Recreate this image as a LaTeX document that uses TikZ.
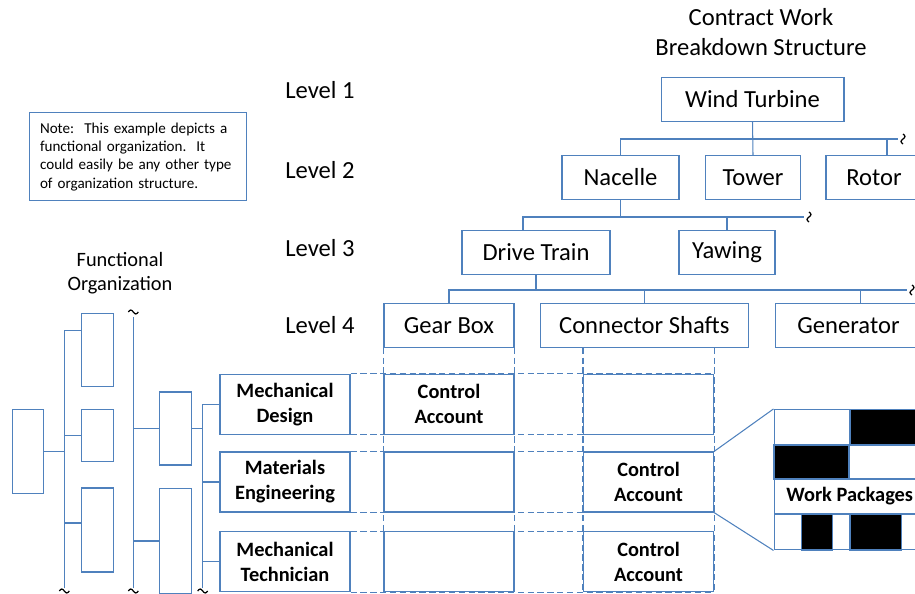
\documentclass[tikz,border=0pt]{standalone}
\usepackage{fontspec}
\setmainfont{Carlito}
\definecolor{wbsblue}{RGB}{79,129,189}

\begin{document}
\begin{tikzpicture}[x=0.02cm, y=-0.02cm,
  line/.style={draw=wbsblue, line width=0.6pt},
  wbsbox/.style={line, minimum height=0.87cm, inner sep=0pt, font=\fontsize{14}{17}\selectfont},
  orgbox/.style={line, minimum width=2.6cm, minimum height=1.2cm, inner sep=0pt, align=center, font=\bfseries\fontsize{11.6}{14.2}\selectfont},
  blankbox/.style={line, minimum width=0.63cm, inner sep=0pt},
  gridline/.style={draw=wbsblue, line width=0.6pt, dash pattern=on 3.6pt off 2pt},
  squiggle/.pic={\draw[black, line width=0.7pt] (-5,0) sin (-2.5,-2) cos (0,0) sin (2.5,2) cos (5,0);}
]
\useasboundingbox (0,0) rectangle (915,594);
\clip (0,0) rectangle (915,594);

% 标题与说明
\node (title) at (761,32) [align=center, font=\fontsize{14}{17}\selectfont] {Contract Work\\Breakdown Structure};
\node (note) at (138,156.7) [line, minimum width=4.35cm, minimum height=1.76cm, text width=3.92cm, align=left, font=\fontsize{8.6}{10.4}\selectfont\frenchspacing]
  {Note:~ This example depicts a\\functional organization.~ It\\could easily be any other type\\of organization structure.};
\node (forg) at (120,273) [align=center, font=\fontsize{11.6}{13.6}\selectfont] {Functional\\Organization};
\foreach \n/\y in {1/90,2/170,3/248,4/325} {
    \node (lv\n) at (320,\y) [font=\fontsize{14}{17}\selectfont] {Level \n}; % 左侧层级
}

% WBS 树
\node (wt) at (752.5,99.5) [wbsbox, minimum width=3.66cm] {Wind Turbine};
\node (nacelle) at (620.5,177.5) [wbsbox, minimum width=2.34cm] {Nacelle};
\node (tower) at (753,177.5) [wbsbox, minimum width=1.9cm] {Tower};
\node (rotor) at (874,177.5) [wbsbox, minimum width=1.92cm] {Rotor};
\node (drive) at (536,252.5) [wbsbox, minimum width=2.96cm] {Drive Train};
\node (yaw) at (727,252.5) [wbsbox, minimum width=1.92cm] {Yawing};
\node (gear) at (449,325.5) [wbsbox, minimum width=2.6cm] {Gear Box};
\node (conn) at (644.3,325.5) [wbsbox, minimum width=4.17cm] {Connector Shafts};
\node (gen) at (848.5,325.5) [wbsbox, minimum width=2.94cm] {Generator};

\coordinate (bus1) at (898,139);
\coordinate (bus2) at (804,217);
\coordinate (bus3) at (907,290);
\draw[line] (wt.south) -- (tower.north);
\draw[line] (nacelle.north) |- (bus1);
\draw[line] ([xshift=0.26cm]rotor.north) |- (bus1);
\draw[line] (nacelle.south) -- (nacelle.south |- bus2);
\draw[line] ([xshift=-0.26cm]drive.north) |- (bus2);
\draw[line] (yaw.north) -- (yaw.north |- bus2);
\draw[line] (drive.south) -- (drive.south |- bus3);
\draw[line] (gear.north) |- (bus3);
\draw[line] (conn.north) -- (conn.north |- bus3);
\draw[line] ([xshift=0.24cm]gen.north) -- ([xshift=0.24cm]gen.north |- bus3);
\foreach \b in {bus1,bus2,bus3} {
    \path (\b) ++(5,0) pic[rotate=90]{squiggle}; % 省略号
}

% 职能组织
\node (f0) at (28,451.3) [blankbox, minimum height=1.68cm] {};
\node (f1a) at (97.5,350) [blankbox, minimum height=1.47cm] {};
\node (f1b) at (97.5,435.5) [blankbox, minimum height=1.05cm] {};
\node (f1c) at (97.5,530) [blankbox, minimum height=1.68cm] {};
\node (f2a) at (175.3,428.5) [blankbox, minimum height=1.46cm] {};
\node (f2b) at (175.3,541) [blankbox, minimum height=2.1cm] {};
\node (org1) at (285,404.3) [orgbox] {Mechanical\\Design};
\node (org2) at (285,482) [orgbox] {Materials\\Engineering};
\node (org3) at (285,561.7) [orgbox] {Mechanical\\Technician};

\coordinate (v1) at (64.3,588);
\coordinate (v2top) at (133.3,317);
\coordinate (v2) at (133.3,588);
\coordinate (v3) at (202.7,588);
\draw[line] ([yshift=0.386cm]f1a.west) -| (v1);
\draw[line] (v1) |- (f0.east);
\draw[line] (v1) |- (f1b.west);
\draw[line] (v1) |- ([yshift=0.14cm]f1c.west);
\draw[line] (v2top) -- (v2);
\draw[line] (v2) |- (f2a.west);
\draw[line] (v2) |- (f2b.west);
\draw[line] (org1.west) -| (v3);
\draw[line] (v3) |- (org2.west);
\draw[line] (v3) |- (org3.west);
\draw[line] (v3) |- (f2a.east);
\foreach \v in {v1,v2,v3} {
    \path (\v) ++(0,3) pic{squiggle};
}
\path (v2top) ++(0,-5) pic{squiggle};

% 控制账户矩阵
\node (gb1) at (449,404.3) [orgbox] {Control\\Account};
\node (gb2) at (449,482) [orgbox] {};
\node (gb3) at (449,561.7) [orgbox] {};
\node (cs1) at (648.5,404.3) [orgbox] {};
\node (cs2) at (648.5,482) [orgbox] {Control\\Account};
\node (cs3) at (648.5,561.7) [orgbox] {Control\\Account};
\foreach \r in {1,2,3} {
    \draw[gridline] (org\r.north east) -- (cs\r.north east);
    \draw[gridline] (org\r.south east) -- (cs\r.south east);
}
\draw[gridline] (gear.south west) -- (gb3.south west);
\draw[gridline] (gear.south east) -- (gb3.south east);
\draw[gridline] (conn.south -| cs1.west) -- (cs3.south west);
\draw[gridline] (conn.south -| cs1.east) -- (cs3.south east);

% 工作包
\node (wp) at (850,479.7) [line, minimum width=3.04cm, minimum height=2.81cm, inner sep=0pt] {};
\draw[line] (cs2.north east) -- (wp.north west);
\draw[line] (cs2.south east) -- (wp.south west);
\draw[line, fill=black] (850,409.3) rectangle (926,445);
\draw[line, fill=black] (774,445) rectangle (849,479);
\draw[line] (774,479) -- (926,479);
\draw[line] (774,514) -- (926,514);
\draw[line, fill=black] (801.7,514) rectangle (832.3,550);
\draw[line, fill=black] (850,514) rectangle (901.7,550);
\node (wptext) at (786,496.5) [anchor=west, inner sep=0pt, font=\bfseries\fontsize{11.6}{14}\selectfont] {Work Packages};
\end{tikzpicture}
\end{document}
